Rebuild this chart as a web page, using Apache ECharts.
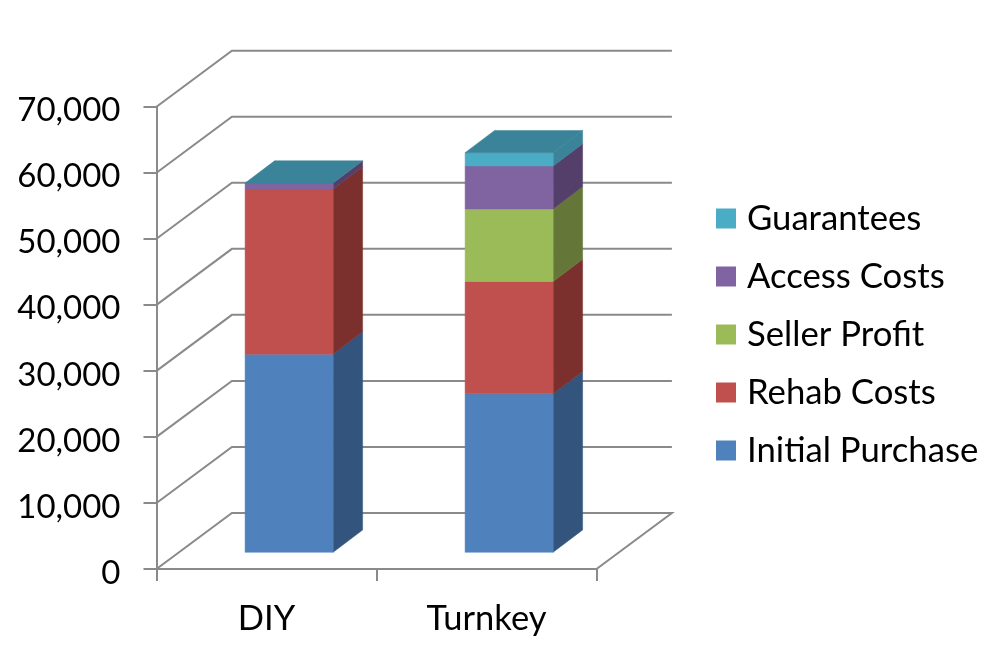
<!DOCTYPE html>
<html><head><meta charset="utf-8">
<style>html,body{margin:0;padding:0;background:#fff}#c{width:1000px;height:667px}</style>
<script src="https://cdn.jsdelivr.net/npm/echarts@6/dist/echarts.min.js"></script>
</head><body><div id="c"></div>
<script>
const categories = ['DIY', 'Turnkey'];
const seriesNames = ['Initial Purchase', 'Rehab Costs', 'Seller Profit', 'Access Costs', 'Guarantees'];
const initialPurchase = [30000, 24000];
const rehabCosts = [25000, 17000];
const sellerProfit = [0, 11000];
const accessCosts = [900, 6500];
const guarantees = [0, 2000];
const yTicks = [0, 10000, 20000, 30000, 40000, 50000, 60000, 70000];

const values = [initialPurchase, rehabCosts, sellerProfit, accessCosts, guarantees];
const frontColors = ['#4f81bd', '#c0504d', '#9bbb59', '#8064a2', '#4bacc6'];
const sideColors = ['#32547d', '#7b302e', '#647739', '#533f69', '#3a8399'];
const topColor = '#3a8399';
const lineColor = '#8a8a8a';
const WALL = [75.4, -56];
const NEAR = [22.6, -16.7];
const DEPTH = [29.5, -22.3];
const FONT = 'Lato, Carlito, sans-serif';

const chart = echarts.init(document.getElementById('c'), null, {renderer: 'canvas'});

function poly(points, color) {
  return {type: 'polygon', shape: {points}, style: {fill: color, stroke: color, lineWidth: 0.5}};
}
function line(points) {
  return {type: 'polyline', shape: {points}, style: {fill: 'none', stroke: lineColor, lineWidth: 2}};
}

const wallSeries = {
  type: 'custom', name: 'walls', silent: true, z: 1,
  coordinateSystem: 'cartesian2d',
  data: yTicks.map(v => [0, v]),
  encode: {x: 0, y: 1},
  renderItem(params, api) {
    const v = api.value(1);
    const halfBand = api.size([1, 0])[0] / 2;
    const p = api.coord([0, v]);
    const left = p[0] - halfBand;
    const right = left + halfBand * 4;
    const pts = [[left, p[1]], [left + WALL[0], p[1] + WALL[1]], [right + WALL[0], p[1] + WALL[1]]];
    if (v === 0) pts.push([right, p[1]]);
    return line(pts);
  }
};

const barSeries = seriesNames.map((name, si) => {
  const data = categories.map((c, ci) => {
    let base = 0;
    for (let k = 0; k < si; k++) base += values[k][ci];
    return [ci, base, base + values[si][ci]];
  });
  return {
    type: 'custom', name, z: 2 + si,
    coordinateSystem: 'cartesian2d',
    itemStyle: {color: frontColors[si]},
    data, encode: {x: 0, y: [1, 2]},
    renderItem(params, api) {
      const ci = api.value(0);
      const w = api.size([1, 0])[0] * 0.4;
      const a = api.coord([ci, api.value(1)]);
      const b = api.coord([ci, api.value(2)]);
      const x0 = a[0] - w / 2 + NEAR[0], x1 = x0 + w;
      const y0 = a[1] + NEAR[1], y1 = b[1] + NEAR[1];
      const kids = [];
      if (y0 - y1 > 0.01) {
        kids.push(poly([[x1, y0], [x1 + DEPTH[0], y0 + DEPTH[1]], [x1 + DEPTH[0], y1 + DEPTH[1]], [x1, y1]], sideColors[si]));
        kids.push(poly([[x0, y0], [x1, y0], [x1, y1], [x0, y1]], frontColors[si]));
      }
      if (si === seriesNames.length - 1) {
        kids.push(poly([[x0, y1], [x1, y1], [x1 + DEPTH[0], y1 + DEPTH[1]], [x0 + DEPTH[0], y1 + DEPTH[1]]], topColor));
      }
      return {type: 'group', children: kids};
    }
  };
});

chart.setOption({
  animation: false,
  backgroundColor: '#fff',
  color: frontColors,
  textStyle: {fontFamily: FONT},
  grid: {left: 156.5, right: 403.5, top: 106.7, bottom: 98, containLabel: false},
  xAxis: {
    type: 'category', data: categories, boundaryGap: true,
    axisLine: {show: true, onZero: false, lineStyle: {color: lineColor, width: 2}},
    axisTick: {show: true, length: 12, lineStyle: {color: lineColor, width: 2}},
    axisLabel: {color: '#000', fontSize: 34.5, margin: 32, fontFamily: FONT}
  },
  yAxis: {
    type: 'value', min: 0, max: 70000, interval: 10000,
    axisLine: {show: true, lineStyle: {color: lineColor, width: 2}},
    axisTick: {show: true, length: 13, lineStyle: {color: lineColor, width: 2}},
    splitLine: {show: false},
    axisLabel: {
      margin: 36,
      formatter: v => '{n|' + v.toLocaleString('en-US') + '}',
      rich: {n: {color: '#000', fontSize: 33, padding: [8, 0, 0, 0], fontFamily: FONT}}
    }
  },
  legend: {
    orient: 'vertical', left: 711, top: 196,
    data: seriesNames.slice().reverse(),
    icon: 'rect', itemWidth: 20, itemHeight: 20, itemGap: 23,
    selectedMode: false,
    textStyle: {color: '#000', fontSize: 34.7, lineHeight: 34, padding: [0, 0, 0, 6], fontFamily: FONT}
  },
  series: [wallSeries].concat(barSeries)
});
</script></body></html>
